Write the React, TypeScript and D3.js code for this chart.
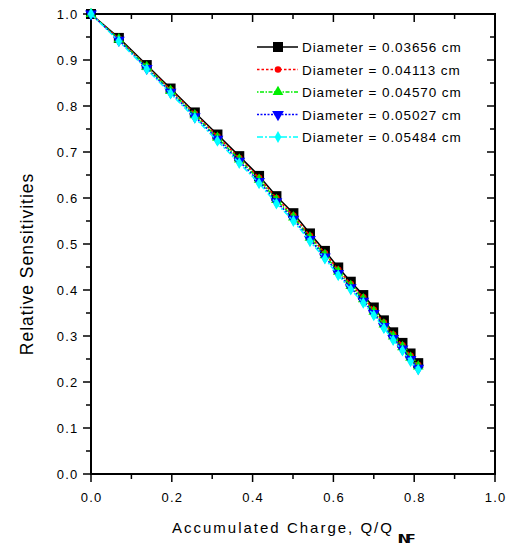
import React from "react";
import * as d3 from "d3";

const xValues = [0, 0.069, 0.138, 0.197, 0.257, 0.313, 0.367, 0.416, 0.459, 0.501, 0.542, 0.579, 0.612, 0.643, 0.674, 0.700, 0.725, 0.748, 0.771, 0.791, 0.810];
const series03656 = [1.0, 0.948, 0.889, 0.838, 0.786, 0.738, 0.691, 0.648, 0.604, 0.567, 0.523, 0.485, 0.449, 0.418, 0.389, 0.362, 0.334, 0.308, 0.285, 0.262, 0.241];
const series04113 = [1.0, 0.946, 0.886, 0.835, 0.783, 0.734, 0.687, 0.644, 0.600, 0.562, 0.518, 0.480, 0.444, 0.413, 0.384, 0.357, 0.329, 0.303, 0.280, 0.257, 0.237];
const series04570 = [1.0, 0.945, 0.885, 0.833, 0.780, 0.731, 0.684, 0.640, 0.596, 0.558, 0.514, 0.476, 0.440, 0.409, 0.380, 0.353, 0.325, 0.299, 0.276, 0.253, 0.234];
const series05027 = [1.0, 0.943, 0.882, 0.830, 0.777, 0.728, 0.680, 0.636, 0.592, 0.554, 0.510, 0.472, 0.436, 0.405, 0.376, 0.349, 0.321, 0.295, 0.272, 0.249, 0.230];
const series05484 = [1.0, 0.941, 0.880, 0.827, 0.774, 0.724, 0.676, 0.632, 0.588, 0.550, 0.506, 0.468, 0.432, 0.401, 0.372, 0.345, 0.317, 0.291, 0.268, 0.245, 0.227];
const seriesLabels = [
  "Diameter = 0.03656 cm",
  "Diameter = 0.04113 cm",
  "Diameter = 0.04570 cm",
  "Diameter = 0.05027 cm",
  "Diameter = 0.05484 cm",
];
const xTicks = [0, 0.2, 0.4, 0.6, 0.8, 1.0];
const yTicks = [0, 0.1, 0.2, 0.3, 0.4, 0.5, 0.6, 0.7, 0.8, 0.9, 1.0];

const allSeries = [series03656, series04113, series04570, series05027, series05484];
const colors = ["#000000", "#ff0000", "#00ee00", "#0000ff", "#00ffff"];
const dashes = ["", "2.5,2", "1.5,1.5,4,1.5", "2,1.5", "6,2,2,2"];
const symbols = [d3.symbolSquare, d3.symbolCircle, d3.symbolTriangle, d3.symbolTriangle, d3.symbolDiamond];
const symSizes = [100, 34, 50, 60, 40];
const rotations = [0, 0, 0, 180, 0];

export default function App() {
  const W = 509, H = 545;
  const x0 = 91, x1 = 495, y0 = 474, y1 = 14;
  const x = d3.scaleLinear().domain([0, 1]).range([x0, x1]);
  const y = d3.scaleLinear().domain([0, 1]).range([y0, y1]);
  const line = d3.line<number>().x((_, i) => x(xValues[i])).y((d) => y(d));
  const font = "Liberation Sans, Arial, sans-serif";
  const xMinor = d3.range(0, 1.0001, 0.1);
  const yMinor = d3.range(0, 1.0001, 0.05);

  return (
    <svg width={W} height={H} style={{ position: "absolute", left: 0, top: 0, background: "#fff" }} fontFamily={font}>
      {/* ticks */}
      {xMinor.map((v, i) => {
        const major = i % 2 === 0;
        const len = major ? 8 : 5;
        return (
          <g key={"xt" + i} stroke="#000" strokeWidth={1.5}>
            <line x1={x(v)} x2={x(v)} y1={y0} y2={y0 + len} />
            <line x1={x(v)} x2={x(v)} y1={y1} y2={y1 + len} />
          </g>
        );
      })}
      {yMinor.map((v, i) => {
        const major = i % 2 === 0;
        const len = major ? 8 : 5;
        return (
          <g key={"yt" + i} stroke="#000" strokeWidth={1.5}>
            <line x1={x0 - len} x2={x0} y1={y(v)} y2={y(v)} />
            <line x1={x1 - len} x2={x1} y1={y(v)} y2={y(v)} />
          </g>
        );
      })}
      {/* frame */}
      <rect x={x0} y={y1} width={x1 - x0} height={y0 - y1} fill="none" stroke="#000" strokeWidth={2} />
      {/* tick labels */}
      {xTicks.map((v) => (
        <text key={"xl" + v} x={x(v) + 0.6} y={502} textAnchor="middle" fontSize={13} letterSpacing={1.2} fill="#000">
          {v.toFixed(1)}
        </text>
      ))}
      {yTicks.map((v) => (
        <text key={"yl" + v} x={78.5} y={y(v) + 4.7} textAnchor="end" fontSize={13} letterSpacing={1.2} fill="#000">
          {v.toFixed(1)}
        </text>
      ))}
      {/* axis titles */}
      <text x={172} y={533} fontSize={15} letterSpacing={2} fill="#000">
        Accumulated Charge, Q/Q
        <tspan dx={4} dy={10} fontSize={13} fontWeight="bold" letterSpacing={-2}>INF</tspan>
      </text>
      <text transform={`translate(33,264) rotate(-90)`} textAnchor="middle" fontSize={17.5} letterSpacing={1} fill="#000">
        Relative Sensitivities
      </text>
      {/* series */}
      {allSeries.map((s, k) => (
        <g key={"s" + k}>
          <path d={line(s) || ""} fill="none" stroke={colors[k]} strokeWidth={1.5} strokeDasharray={dashes[k]} />
          {s.map((v, i) => (
            <path
              key={i}
              d={d3.symbol().type(symbols[k]).size(symSizes[k])() || ""}
              transform={`translate(${x(xValues[i])},${y(v)}) rotate(${rotations[k]})`}
              fill={colors[k]}
            />
          ))}
        </g>
      ))}
      {/* legend */}
      {seriesLabels.map((lab, k) => {
        const ly = 47 + k * 22.5;
        return (
          <g key={"lg" + k}>
            <line x1={257} x2={298} y1={ly} y2={ly} stroke={colors[k]} strokeWidth={1.5} strokeDasharray={dashes[k]} />
            <path
              d={d3.symbol().type(symbols[k]).size(symSizes[k])() || ""}
              transform={`translate(278,${ly}) rotate(${rotations[k]})`}
              fill={colors[k]}
            />
            <text x={302} y={ly + 5} fontSize={13.5} letterSpacing={0.9} fill="#000">
              {lab}
            </text>
          </g>
        );
      })}
    </svg>
  );
}
